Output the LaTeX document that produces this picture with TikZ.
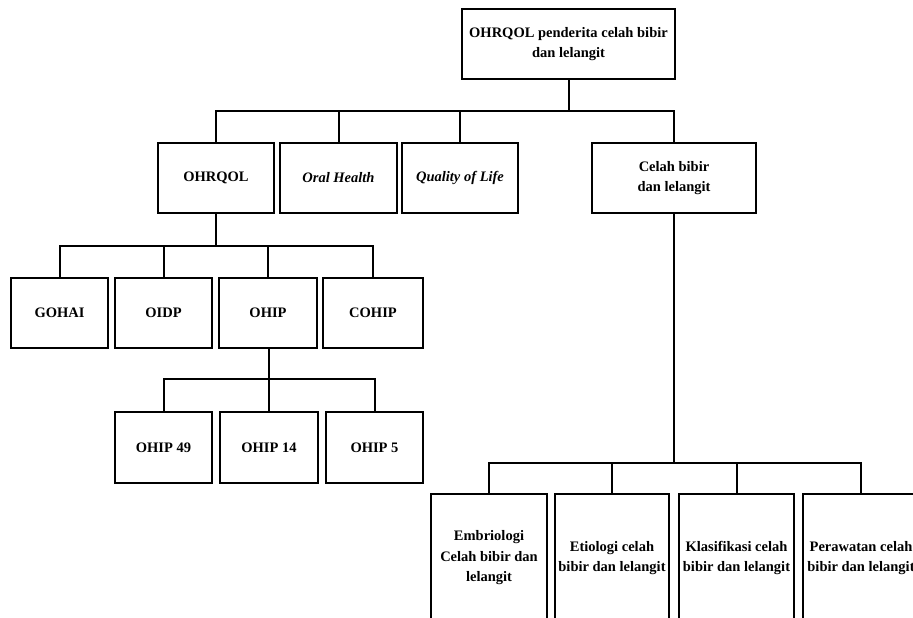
\documentclass[tikz,border=0pt]{standalone}
\usepackage{fontspec}
\setmainfont{Liberation Serif}

\begin{document}
\begin{tikzpicture}[x=1pt, y=-1pt, line width=2pt,
    kotak/.style={draw, line width=2pt, align=center, inner sep=0pt,
        font=\fontsize{14.5}{20.5}\selectfont\bfseries},
    lebar/.style={minimum width=#1},
    tinggi/.style={minimum height=#1}]

    \useasboundingbox (0,0) rectangle (913,618);
    \clip (0,0) rectangle (913,618);

    % puncak
    \node[kotak, lebar=213pt, tinggi=70pt] (utama) at (568.5,44) {OHRQOL penderita celah bibir\\dan lelangit};

    % tingkat 2
    \node[kotak, lebar=116pt, tinggi=70pt] (ohrqol) at (216,178) {OHRQOL};
    \node[kotak, lebar=117pt, tinggi=70pt] (oral) at (338.5,178) {\textit{Oral Health}};
    \node[kotak, lebar=116pt, tinggi=70pt] (qol) at (460,178) {\textit{Quality of Life}};
    \node[kotak, lebar=164pt, tinggi=70pt] (celah) at (674,178) {Celah bibir\\dan lelangit};

    % tingkat 3
    \node[kotak, lebar=97pt, tinggi=70pt] (gohai) at (59.5,313) {GOHAI};
    \node[kotak, lebar=97pt, tinggi=70pt] (oidp) at (163.5,313) {OIDP};
    \node[kotak, lebar=98pt, tinggi=70pt] (ohip) at (268,313) {OHIP};
    \node[kotak, lebar=100pt, tinggi=70pt] (cohip) at (373,313) {COHIP};

    % tingkat 4
    \node[kotak, lebar=97pt, tinggi=71pt] (ohip49) at (163.5,447.5) {OHIP 49};
    \node[kotak, lebar=98pt, tinggi=71pt] (ohip14) at (269,447.5) {OHIP 14};
    \node[kotak, lebar=97pt, tinggi=71pt] (ohip5) at (374.5,447.5) {OHIP 5};

    % tingkat 5
    \node[kotak, lebar=116pt, tinggi=128pt] (embrio) at (489,558) {Embriologi\\Celah bibir dan\\lelangit};
    \node[kotak, lebar=114pt, tinggi=128pt] (etio) at (612,558) {Etiologi celah\\bibir dan lelangit};
    \node[kotak, lebar=115pt, tinggi=128pt] (klas) at (736.5,558) {Klasifikasi celah\\bibir dan lelangit};
    \node[kotak, lebar=116pt, tinggi=128pt] (rawat) at (861,558) {Perawatan celah\\bibir dan lelangit};

    % garis
    \coordinate (bar1) at (0,111);
    \coordinate (bar2) at (0,246);
    \coordinate (bar3) at (0,379);
    \coordinate (bar4) at (0,463);

    \foreach \c in {ohrqol,oral,qol,celah}
        \draw (utama.south) |- (\c.north |- bar1) -- (\c.north);
    \foreach \c in {gohai,oidp,ohip,cohip}
        \draw (ohrqol.south) |- (\c.north |- bar2) -- (\c.north);
    \foreach \c in {ohip49,ohip14,ohip5}
        \draw ([xshift=1pt]ohip.south) |- (\c.north |- bar3) -- (\c.north);
    \foreach \c in {embrio,etio,klas,rawat}
        \draw (celah.south) |- (\c.north |- bar4) -- (\c.north);
\end{tikzpicture}
\end{document}
